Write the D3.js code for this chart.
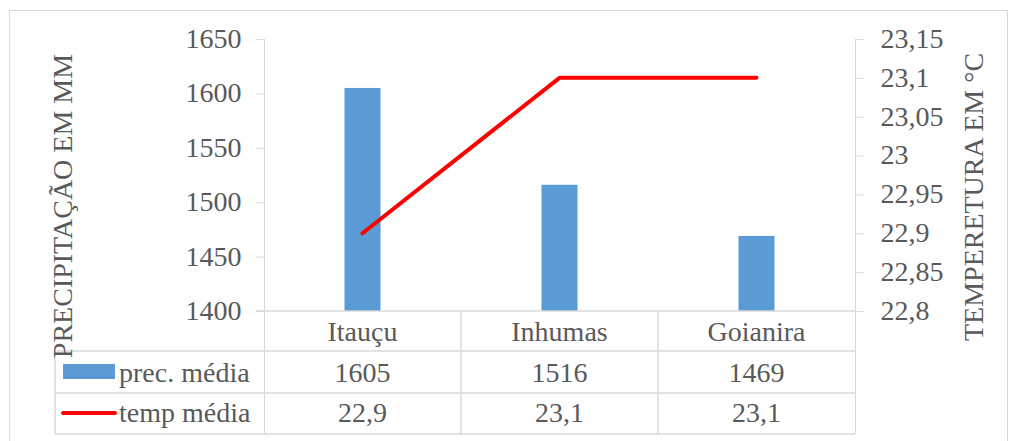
<!DOCTYPE html>
<html>
<head>
<meta charset="utf-8">
<script src="https://cdn.jsdelivr.net/npm/d3@7"></script>
<style>
  body { margin: 0; background: #fff; }
</style>
</head>
<body>
<svg width="1009" height="441"></svg>
<script>
// data
const categories = ["Itauçu", "Inhumas", "Goianira"];
const precMedia = [1605, 1516, 1469];
const tempMedia = [22.9, 23.1, 23.1];
const precTicks = [1400, 1450, 1500, 1550, 1600, 1650];
const tempTicks = [22.8, 22.85, 22.9, 22.95, 23, 23.05, 23.1, 23.15];

const svg = d3.select("svg");
const gridColor = "#d9d9d9";
const textColor = "#595959";
const fontFam = "'Liberation Serif', 'Times New Roman', serif";
const fs = 28;
const fmt = v => String(v).replace(".", ",");

const plot = { left: 264, right: 855, top: 39, bottom: 311 };
const tableLeft = 55;
const rowBottoms = [351, 393, 434];
const rowBase = [341, 382, 422];

function styleText(sel) {
  return sel.style("font-family", fontFam).style("font-size", fs + "px").attr("fill", textColor);
}

// outer frame
svg.append("rect")
  .attr("x", 9.5).attr("y", 10.5)
  .attr("width", 998).attr("height", 440)
  .attr("fill", "none").attr("stroke", gridColor);

const x = d3.scaleBand().domain(categories).range([plot.left, plot.right]);
const yL = d3.scaleLinear().domain([1400, 1650]).range([plot.bottom, plot.top]);
const yR = d3.scaleLinear().domain([22.8, 23.15]).range([plot.bottom, plot.top]);

// left axis
const axL = svg.append("g").attr("transform", "translate(" + (plot.left + 0.5) + ",0)")
  .call(d3.axisLeft(yL).tickValues(precTicks).tickSize(8).tickPadding(15).tickFormat(d => d));
axL.select(".domain").attr("stroke", gridColor).attr("d", "M0," + plot.top + "V" + rowBottoms[2]);
axL.selectAll(".tick line").attr("stroke", gridColor);
styleText(axL.selectAll(".tick text")).attr("dy", "0.3em");

// right axis
const axR = svg.append("g").attr("transform", "translate(" + (plot.right + 0.5) + ",0)")
  .call(d3.axisRight(yR).tickValues(tempTicks).tickSize(8).tickPadding(17).tickFormat(fmt));
axR.select(".domain").attr("stroke", gridColor).attr("d", "M0," + plot.top + "V" + rowBottoms[2]);
axR.selectAll(".tick line").attr("stroke", gridColor);
styleText(axR.selectAll(".tick text")).attr("dy", "0.3em");

// bars
const barW = 36;
svg.append("g").selectAll("rect")
  .data(precMedia)
  .join("rect")
  .attr("x", (d, i) => x(categories[i]) + x.bandwidth() / 2 - barW / 2)
  .attr("y", d => yL(d))
  .attr("width", barW)
  .attr("height", d => yL(1400) - yL(d))
  .attr("fill", "#5b9bd5");

// line
const line = d3.line()
  .x((d, i) => x(categories[i]) + x.bandwidth() / 2)
  .y(d => yR(d));
svg.append("path")
  .datum(tempMedia)
  .attr("d", line)
  .attr("fill", "none")
  .attr("stroke", "#ff0000")
  .attr("stroke-width", 4)
  .attr("stroke-linecap", "round")
  .attr("stroke-linejoin", "round");

// data table
const tbl = svg.append("g").attr("stroke", gridColor).attr("stroke-width", 1.5);
tbl.append("line").attr("x1", plot.left - 8).attr("x2", plot.right).attr("y1", plot.bottom).attr("y2", plot.bottom);
rowBottoms.forEach(yy => {
  tbl.append("line").attr("x1", tableLeft).attr("x2", plot.right).attr("y1", yy).attr("y2", yy);
});
tbl.append("line").attr("x1", tableLeft).attr("x2", tableLeft)
  .attr("y1", rowBottoms[0]).attr("y2", rowBottoms[2]);
categories.slice(1).forEach(c => {
  tbl.append("line").attr("x1", x(c)).attr("x2", x(c)).attr("y1", plot.bottom).attr("y2", rowBottoms[2]);
});

const rows = [categories, precMedia.map(String), tempMedia.map(fmt)];
rows.forEach((r, ri) => {
  styleText(svg.append("g").selectAll("text")
    .data(r)
    .join("text")
    .attr("x", (d, i) => x(categories[i]) + x.bandwidth() / 2)
    .attr("y", rowBase[ri])
    .attr("text-anchor", "middle")
    .text(d => d));
});

// legend keys in table
svg.append("rect")
  .attr("x", 63).attr("y", 364).attr("width", 52).attr("height", 15)
  .attr("fill", "#5b9bd5");
svg.append("line")
  .attr("x1", 63).attr("x2", 115).attr("y1", 413).attr("y2", 413)
  .attr("stroke", "#ff0000").attr("stroke-width", 4).attr("stroke-linecap", "round");
styleText(svg.append("text").attr("x", 119).attr("y", rowBase[1]).text("prec. média"));
styleText(svg.append("text").attr("x", 119).attr("y", rowBase[2]).text("temp média"));

// axis titles
styleText(svg.append("text")
  .attr("transform", "translate(72,206) rotate(-90)")
  .attr("text-anchor", "middle")
  .text("PRECIPITAÇÃO EM MM"));
styleText(svg.append("text")
  .attr("transform", "translate(983,197) rotate(-90)")
  .attr("text-anchor", "middle")
  .text("TEMPERETURA EM °C"));
</script>
</body>
</html>
